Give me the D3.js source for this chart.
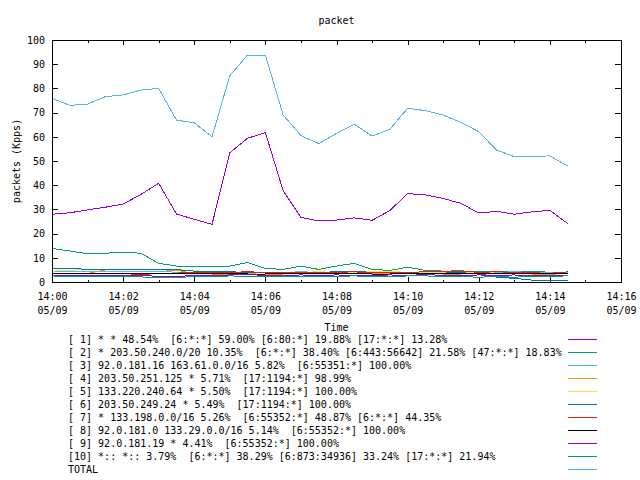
<!DOCTYPE html>
<html>
<head>
<meta charset="utf-8">
<script src="https://cdn.jsdelivr.net/npm/d3@7"></script>
<style>
  body { margin: 0; background: #fff; }
  text { font-family: "DejaVu Sans Mono", monospace; font-size: 10px; fill: #000; }
</style>
</head>
<body>
<svg id="chart" width="640" height="480"></svg>
<script>
const times = ["14:00:00","14:00:30","14:01:00","14:01:30","14:02:00","14:02:30","14:03:00","14:03:30","14:04:00","14:04:30",
  "14:05:00","14:05:30","14:06:00","14:06:30","14:07:00","14:07:30","14:08:00","14:08:30","14:09:00","14:09:30",
  "14:10:00","14:10:30","14:11:00","14:11:30","14:12:00","14:12:30","14:13:00","14:13:30","14:14:00","14:14:30"];

const s1 = [28.0,28.6,29.8,30.9,32.2,36.2,40.8,28.1,25.9,23.8,53.4,59.4,61.7,37.7,26.7,25.2,25.6,26.5,25.5,29.5,36.5,36.0,34.5,32.5,28.5,29.2,28.0,29.0,29.6,24.2];
const s2 = [13.9,12.8,11.7,11.9,12.3,11.9,7.7,6.6,6.6,6.6,6.6,8.1,5.6,5.2,6.6,5.2,6.6,7.7,5.2,4.8,6.1,4.8,4.5,4.6,4.3,4.3,4.5,4.5,4.0,4.0];
const s3 = [4.2,4.2,4.2,4.2,4.2,4.2,4.2,4.1,4.0,4.0,4.0,4.1,4.0,4.0,4.2,4.0,4.0,4.3,4.0,4.1,4.0,4.2,4.2,4.3,4.0,4.0,4.2,4.0,4.0,4.0];
const s4 = [3.4,3.4,3.5,5.0,5.0,5.0,5.0,4.9,3.4,3.3,3.3,3.4,3.2,3.3,3.5,3.6,3.4,3.4,3.3,3.7,3.6,3.4,3.3,3.3,3.4,3.3,3.4,3.3,3.2,3.5];
const s5 = [4.5,4.8,5.3,5.3,5.1,5.3,5.3,5.1,4.7,4.1,3.9,3.8,3.9,4.0,4.0,4.2,4.0,4.0,4.3,4.3,4.0,3.9,3.9,3.8,3.8,3.7,3.7,3.6,3.5,3.5];
const s6 = [5.8,5.5,5.3,5.3,5.3,5.3,5.2,5.1,4.5,4.2,4.2,4.0,4.0,3.9,3.9,4.0,4.2,4.4,4.0,4.0,4.0,4.2,4.2,3.8,3.5,2.0,1.5,0.8,0.8,0.7];
const s7 = [2.8,2.8,2.8,2.8,2.8,3.0,3.6,3.7,3.8,3.9,4.0,4.2,4.0,3.8,3.8,4.0,4.0,4.2,3.8,4.0,4.0,4.2,4.5,4.5,4.0,4.2,4.0,3.8,3.6,4.2];
const s8 = [3.4,3.4,3.5,3.5,3.5,3.5,3.4,3.4,3.4,3.4,3.5,3.3,3.3,3.5,3.5,3.4,3.4,3.5,3.3,3.3,3.4,3.5,3.4,3.5,3.5,3.4,3.5,3.4,3.5,3.6];
const s9 = [2.8,2.7,2.7,2.8,2.8,2.8,2.3,2.2,2.8,2.8,2.9,3.0,2.8,2.8,2.9,2.8,2.9,2.8,2.8,2.9,2.8,3.0,2.8,2.8,2.9,2.8,2.9,2.7,2.8,2.8];
const s10 = [2.5,2.3,2.3,2.2,2.2,2.1,1.8,1.8,2.3,2.3,2.5,2.4,2.2,2.2,2.4,2.2,2.4,2.5,2.3,2.1,2.5,2.5,2.3,2.2,2.0,2.2,2.0,2.3,2.4,2.5];
const total = [75.9,73.0,73.5,76.6,77.3,79.3,80.0,66.9,65.8,60.0,85.3,93.8,93.8,69.0,60.5,57.2,61.4,65.2,60.3,63.1,71.8,70.8,69.0,66.0,62.1,54.5,51.8,51.9,52.1,47.9];

const labels = [
  "[ 1] * * 48.54%  [6:*:*] 59.00% [6:80:*] 19.88% [17:*:*] 13.28%",
  "[ 2] * 203.50.240.0/20 10.35%  [6:*:*] 38.40% [6:443:56642] 21.58% [47:*:*] 18.83%",
  "[ 3] 92.0.181.16 163.61.0.0/16 5.82%  [6:55351:*] 100.00%",
  "[ 4] 203.50.251.125 * 5.71%  [17:1194:*] 98.99%",
  "[ 5] 133.220.240.64 * 5.50%  [17:1194:*] 100.00%",
  "[ 6] 203.50.249.24 * 5.49%  [17:1194:*] 100.00%",
  "[ 7] * 133.198.0.0/16 5.26%  [6:55352:*] 48.87% [6:*:*] 44.35%",
  "[ 8] 92.0.181.0 133.29.0.0/16 5.14%  [6:55352:*] 100.00%",
  "[ 9] 92.0.181.19 * 4.41%  [6:55352:*] 100.00%",
  "[10] *:: *:: 3.79%  [6:*:*] 38.29% [6:873:34936] 33.24% [17:*:*] 21.94%",
  "TOTAL"
];
const colors = ["#9400d3","#009e73","#56b4e9","#e69f00","#f0e442","#0072b2","#e51e10","#000000","#9400d3","#009e73","#56b4e9"];
const seriesList = [s1,s2,s3,s4,s5,s6,s7,s8,s9,s10,total];

const yTicks = [0,10,20,30,40,50,60,70,80,90,100];
const title = "packet", xTitle = "Time", yTitle = "packets (Kpps)", dateLabel = "05/09";

const svg = d3.select("#chart");
const L = 52, R = 621, T = 40, B = 282;
const parse = d3.timeParse("%Y-%m-%d %H:%M:%S");
const t0 = parse("2000-05-09 14:00:00"), t1 = parse("2000-05-09 14:16:00");
const x = d3.scaleTime().domain([t0, t1]).range([L, R]);
const y = d3.scaleLinear().domain([0, 100]).range([B, T]);
const dates = times.map(s => parse("2000-05-09 " + s));

const minorTicks = x.ticks(d3.timeMinute.every(1));
const majorTicks = x.ticks(d3.timeMinute.every(2));

const g = svg.append("g").attr("shape-rendering", "crispEdges");
// minor x ticks bottom/top
g.append("g").attr("transform", `translate(0,${B})`)
  .call(d3.axisBottom(x).tickValues(minorTicks).tickSize(-2.5).tickSizeOuter(0).tickFormat(""))
  .call(s => s.select(".domain").remove());
g.append("g").attr("transform", `translate(0,${T})`)
  .call(d3.axisTop(x).tickValues(minorTicks).tickSize(-2.5).tickSizeOuter(0).tickFormat(""))
  .call(s => s.select(".domain").remove());
// major x ticks
const xb = g.append("g").attr("transform", `translate(0,${B})`)
  .call(d3.axisBottom(x).tickValues(majorTicks).tickSize(-5).tickSizeOuter(0).tickFormat(d3.timeFormat("%H:%M")));
xb.select(".domain").remove();
xb.selectAll(".tick text").attr("y", 17.5).attr("dy", null)
  .each(function() {
    const t = d3.select(this); const txt = t.text(); t.text(null);
    t.append("tspan").attr("x", 0).text(txt);
    t.append("tspan").attr("x", 0).attr("dy", 14).text(dateLabel);
  });
g.append("g").attr("transform", `translate(0,${T})`)
  .call(d3.axisTop(x).tickValues(majorTicks).tickSize(-5).tickSizeOuter(0).tickFormat(""))
  .call(s => s.select(".domain").remove());
// y ticks
const yl = g.append("g").attr("transform", `translate(${L},0)`)
  .call(d3.axisLeft(y).tickValues(yTicks).tickSize(-6).tickSizeOuter(0).tickPadding(7));
yl.select(".domain").remove();
g.append("g").attr("transform", `translate(${R},0)`)
  .call(d3.axisRight(y).tickValues(yTicks).tickSize(-6).tickSizeOuter(0).tickFormat(""))
  .call(s => s.select(".domain").remove());
g.selectAll(".tick line").attr("stroke", "#000");
g.selectAll(".tick text").attr("font-family", "DejaVu Sans Mono").attr("font-size", 10).attr("fill", "#000");

// series
const line = d3.line().x((d, i) => x(dates[i])).y(d => y(d));
const lg = svg.append("g");
seriesList.forEach((s, i) => {
  lg.append("path").datum(s).attr("d", line)
    .attr("fill", "none").attr("stroke", colors[i]).attr("stroke-width", 1)
    .attr("shape-rendering", "crispEdges");
});

// border
svg.append("rect").attr("x", L).attr("y", T).attr("width", R - L).attr("height", B - T)
  .attr("fill", "none").attr("stroke", "#000").attr("shape-rendering", "crispEdges");

// titles
svg.append("text").attr("x", (L + R) / 2).attr("y", 24).attr("text-anchor", "middle").text(title);
svg.append("text").attr("x", (L + R) / 2).attr("y", 331).attr("text-anchor", "middle").text(xTitle);
svg.append("text").attr("transform", `translate(20,${(T + B) / 2}) rotate(-90)`)
  .attr("text-anchor", "middle").text(yTitle);

// legend
const leg = svg.append("g");
labels.forEach((lab, i) => {
  const cy = 339.5 + i * 13;
  leg.append("text").attr("x", 68).attr("y", cy + 3.5).attr("xml:space", "preserve")
    .style("white-space", "pre").text(lab);
  leg.append("line").attr("x1", 568).attr("x2", 597).attr("y1", cy).attr("y2", cy)
    .attr("stroke", colors[i]).attr("shape-rendering", "crispEdges");
});
</script>
</body>
</html>
